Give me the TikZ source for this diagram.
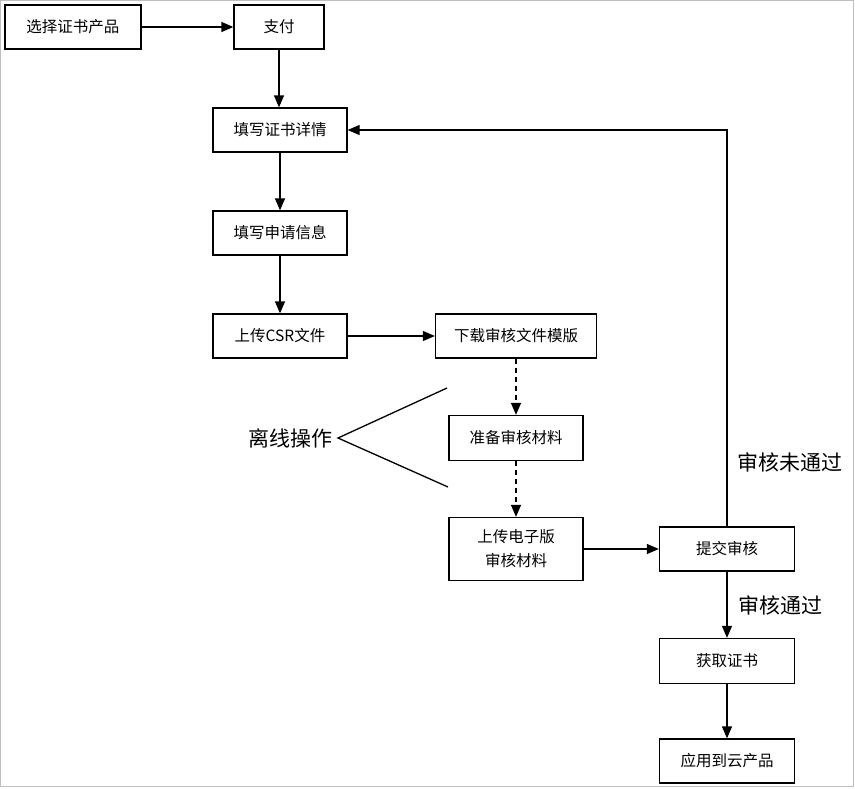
\documentclass[tikz,border=0pt]{standalone}
\usepackage{fontspec}
\setmainfont{Noto Sans CJK SC}
\usetikzlibrary{arrows.meta}
\begin{document}
\begin{tikzpicture}[x=1pt,y=-1pt,
  box/.style={draw=black,line width=1.3pt,inner sep=0pt,minimum height=44pt,font=\fontsize{15.5}{19}\selectfont,align=center},
  arr/.style={line width=1.3pt,-{Triangle[length=12pt,width=10pt]}},
  lbl/.style={font=\fontsize{21}{24}\selectfont,inner sep=0pt}]
\useasboundingbox (0,0) rectangle (855,788);
\draw[draw=black!25,line width=1pt] (0.5,0.5) rectangle (853.5,786.5);
\node[box,minimum width=136pt] (a) at (73,27) {选择证书产品};
\node[box,minimum width=90pt] (b) at (279,27) {支付};
\node[box,minimum width=134pt] (c) at (280,130) {填写证书详情};
\node[box,minimum width=134pt] (d) at (280,233) {填写申请信息};
\node[box,minimum width=134pt] (e) at (280,336) {上传CSR文件};
\node[box,minimum width=161pt] (f) at (516,336) {下载审核文件模版};
\node[box,minimum width=134pt,minimum height=45pt] (g) at (516,438) {准备审核材料};
\node[box,minimum width=134pt,minimum height=63pt,font=\fontsize{15.5}{24}\selectfont] (h) at (516,549) {上传电子版\\审核材料};
\node[box,minimum width=135pt] (i) at (727,549) {提交审核};
\node[box,minimum width=135pt,minimum height=45pt] (j) at (727,661) {获取证书};
\node[box,minimum width=135pt] (k) at (727,761) {应用到云产品};
\node[lbl] (off) at (290,438) {离线操作};
\node[lbl] (fail) at (790,462) {审核未通过};
\node[lbl] (pass) at (780,605) {审核通过};
\coordinate (tip) at (338,438);
\coordinate (up) at (447,388);
\coordinate (lo) at (448,487);
\draw[arr] (a) -- (b);
\draw[arr] (b) -- (b |- c.north);
\draw[arr] (c) -- (d);
\draw[arr] (d) -- (e);
\draw[arr] (e) -- (f);
\draw[arr,dashed,dash pattern=on 5pt off 4pt] (f) -- (g);
\draw[arr,dashed,dash pattern=on 5pt off 4pt] (g) -- (h);
\draw[arr] (h) -- (i);
\draw[arr] (i.north) |- (c.east);
\draw[arr] (i) -- (j);
\draw[arr] (j) -- (k);
\draw[line width=1.3pt] (up) -- (tip) -- (lo);
\end{tikzpicture}
\end{document}
